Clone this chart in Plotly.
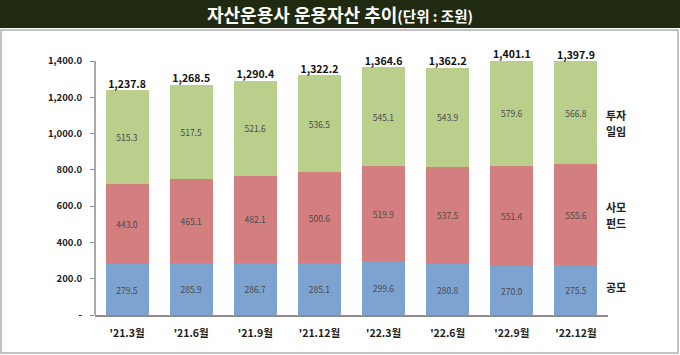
import plotly.graph_objects as go

categories = ["'21.3월", "'21.6월", "'21.9월", "'21.12월", "'22.3월", "'22.6월", "'22.9월", "'22.12월"]
public_fund = [279.5, 285.9, 286.7, 285.1, 299.6, 280.8, 270.0, 275.5]
private_fund = [443.0, 465.1, 482.1, 500.6, 519.9, 537.5, 551.4, 555.6]
discretionary = [515.3, 517.5, 521.6, 536.5, 545.1, 543.9, 579.6, 566.8]
totals = [1237.8, 1268.5, 1290.4, 1322.2, 1364.6, 1362.2, 1401.1, 1397.9]
tick_vals = [0, 200, 400, 600, 800, 1000, 1200, 1400]
tick_text = ["-", "200.0", "400.0", "600.0", "800.0", "1,000.0", "1,200.0", "1,400.0"]

FONT = "Noto Sans CJK KR"
W, H = 680, 355
L, R, B = 95, 72, 40
Y_TOP_PX = 61  # pixel of 1400
YMAX = 1450
ppu = (H - B - Y_TOP_PX) / 1400.0
T = Y_TOP_PX - (YMAX - 1400) * ppu
PW = W - L - R
PH = H - B - T


def px(xp):
    return (xp - L) / PW


def py(yp):
    return (H - B - yp) / PH


fig = go.Figure()
series = [
    ("공모", public_fund, "#7ea3d1"),
    ("사모펀드", private_fund, "#d47f7f"),
    ("투자일임", discretionary, "#bbcf8c"),
]
for name, vals, col in series:
    fig.add_trace(go.Bar(
        x=categories, y=vals, name=name, marker=dict(color=col, line=dict(width=0)),
        text=[f"{v:.1f}" for v in vals], textposition="inside", insidetextanchor="middle",
        textangle=0, textfont=dict(size=8.5, color="#4a4a4a", family=FONT),
        hoverinfo="skip",
    ))
fig.add_trace(go.Scatter(
    x=categories, y=totals, mode="text", text=[f"<b>{v:,.1f}</b>" for v in totals],
    textposition="top center", textfont=dict(size=10.5, color="#111111", family=FONT),
    hoverinfo="skip", cliponaxis=False,
))

fig.update_layout(
    width=W, height=H, barmode="stack", bargap=0.33, showlegend=False,
    margin=dict(l=L, r=R, t=T, b=B, autoexpand=False),
    paper_bgcolor="white", plot_bgcolor="white",
    font=dict(family=FONT, color="#222222"),
)
fig.update_yaxes(
    range=[0, YMAX], tickvals=tick_vals, ticktext=[f"<b>{t}</b>" for t in tick_text],
    showgrid=False, zeroline=False, showline=False,
    ticks="outside", ticklen=4, tickcolor="#8c8c8c", tickfont=dict(size=9.5, color="#222222"),
    ticklabelstandoff=6, automargin=False,
)
fig.update_xaxes(
    showgrid=False, showline=True, linecolor="#8c8c8c", linewidth=1.5, ticks="",
    tickfont=dict(size=10.5, color="#222222"), ticktext=[f"<b>{c}</b>" for c in categories],
    tickvals=categories, ticklabelstandoff=8, automargin=False,
)
# y axis line up to 1400
fig.add_shape(type="line", xref="paper", yref="y", x0=0, x1=0, y0=0, y1=1400,
              line=dict(color="#8c8c8c", width=1.5))

# title bar and frame
fig.add_shape(type="rect", xref="paper", yref="paper", x0=px(0), x1=px(W),
              y0=py(28), y1=py(0), line=dict(width=0), fillcolor="#1f2a10", layer="below")
fig.add_shape(type="rect", xref="paper", yref="paper",
              x0=px(1), x1=px(678), y0=py(353), y1=py(30),
              line=dict(width=1.5, color="#b0b0b0"), fillcolor="rgba(0,0,0,0)", layer="below")
fig.add_annotation(xref="paper", yref="paper", x=px(340), y=py(14),
                   text="<b>자산운용사 운용자산 추이</b><span style='font-size:14.5px'><b>(단위 : 조원)</b></span>",
                   showarrow=False, font=dict(size=18, color="white", family=FONT),
                   xanchor="center", yanchor="middle")

legend_lines = [("투자", 115), ("일임", 131), ("사모", 207), ("펀드", 223), ("공모", 287)]
for txt, ypx in legend_lines:
    fig.add_annotation(xref="paper", yref="paper", x=px(604), y=py(ypx),
                       text=f"<b>{txt}</b>", showarrow=False, align="left",
                       xanchor="left", yanchor="middle",
                       font=dict(size=11, color="#222222", family=FONT))

fig.write_html("out.html", config={"displayModeBar": False},
               post_script="document.body.style.margin='0';document.body.style.padding='0';")
